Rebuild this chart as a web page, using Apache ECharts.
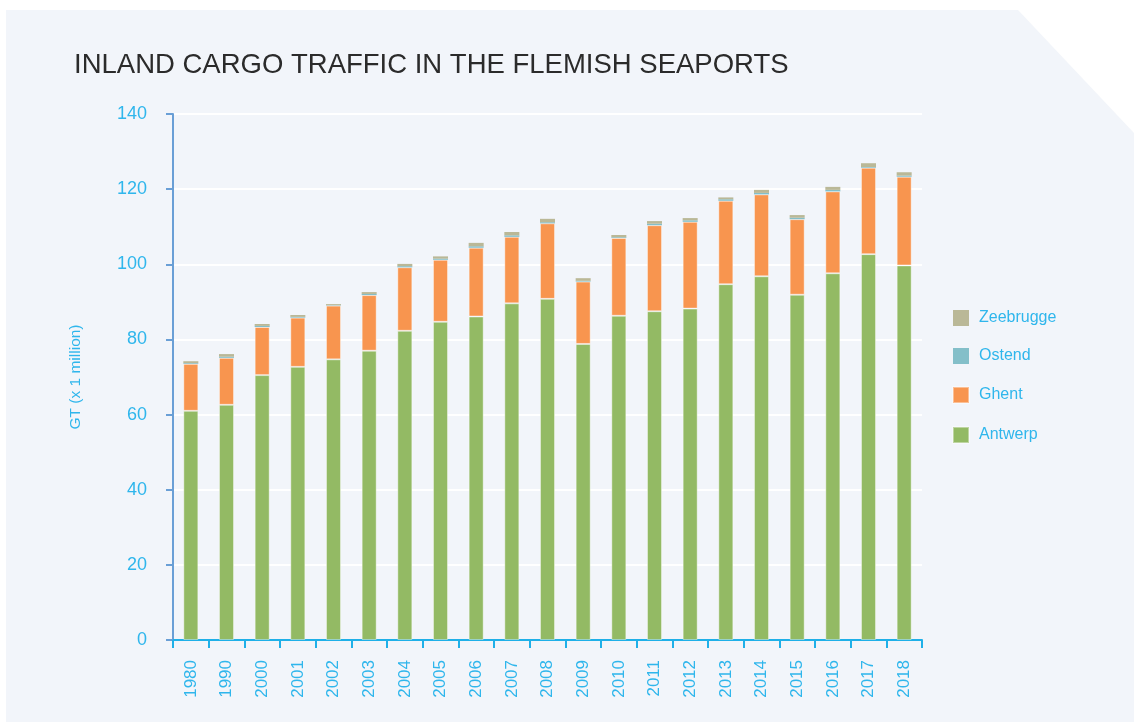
<!DOCTYPE html>
<html>
<head>
<meta charset="utf-8">
<script src="https://cdn.jsdelivr.net/npm/echarts@6/dist/echarts.min.js"></script>
<style>
  html, body { margin: 0; padding: 0; background: #fff; }
  #main { width: 1134px; height: 722px; }
</style>
</head>
<body>
<div id="main"></div>
<script>
var years = ['1980', '1990', '2000', '2001', '2002', '2003', '2004', '2005', '2006', '2007',
    '2008', '2009', '2010', '2011', '2012', '2013', '2014', '2015', '2016', '2017', '2018'];
var antwerp = [61.0, 62.6, 70.5, 72.7, 74.7, 77.0, 82.3, 84.7, 86.1, 89.6,
    90.8, 78.8, 86.3, 87.5, 88.2, 94.7, 96.8, 91.9, 97.6, 102.7, 99.7];
var ghent = [12.5, 12.5, 12.8, 13.1, 14.3, 14.8, 16.9, 16.5, 18.3, 17.7,
    20.1, 16.6, 20.7, 22.9, 23.1, 22.2, 21.8, 20.1, 21.8, 23.0, 23.6];
var ostend = [0.2, 0.3, 0.3, 0.2, 0.1, 0.3, 0.3, 0.3, 0.4, 0.4,
    0.3, 0.2, 0.2, 0.4, 0.4, 0.4, 0.4, 0.4, 0.4, 0.2, 0.3];
var zeebrugge = [0.5, 0.7, 0.5, 0.5, 0.3, 0.5, 0.6, 0.6, 0.9, 0.9,
    0.9, 0.7, 0.6, 0.7, 0.6, 0.5, 0.8, 0.7, 0.8, 1.0, 0.9];

var labelBlue = '#2fb6ec';
var font = '"Liberation Sans", Arial, sans-serif';

var chart = echarts.init(document.getElementById('main'));

function barSeries(name, data, color, border) {
    return {
        name: name,
        type: 'bar',
        stack: 'total',
        barWidth: 15,
        data: data,
        itemStyle: {
            color: color,
            borderColor: 'rgba(255,255,255,0.4)',
            borderWidth: border
        }
    };
}

var option = {
    backgroundColor: '#ffffff',
    animation: false,
    graphic: [{
        type: 'polygon',
        z: -10,
        shape: {
            points: [[6, 10], [1018, 10], [1134, 133], [1134, 722], [6, 722]]
        },
        style: { fill: '#f2f5fa' }
    }],
    title: {
        text: 'INLAND CARGO TRAFFIC IN THE FLEMISH SEAPORTS',
        left: 69,
        top: 46,
        textStyle: {
            color: '#2b2b2b',
            fontFamily: font,
            fontWeight: 'normal',
            fontSize: 27.5
        }
    },
    legend: {
        data: ['Zeebrugge', 'Ostend', 'Ghent', 'Antwerp'],
        orient: 'vertical',
        left: 947,
        top: 305,
        itemWidth: 16,
        itemHeight: 16,
        itemGap: 22,
        icon: 'rect',
        textStyle: {
            color: labelBlue,
            fontFamily: font,
            fontSize: 16,
            padding: [0, 0, 0, 5]
        }
    },
    grid: {
        left: 173,
        right: 212,
        top: 114,
        bottom: 82
    },
    xAxis: {
        type: 'category',
        data: years,
        axisLine: { lineStyle: { color: '#1fb0e8', width: 2 } },
        axisTick: { show: true, length: 8, lineStyle: { color: '#1fb0e8', width: 2 } },
        axisLabel: {
            rotate: 90,
            color: labelBlue,
            fontFamily: font,
            fontSize: 17,
            margin: 20
        }
    },
    yAxis: {
        type: 'value',
        min: 0,
        max: 140,
        interval: 20,
        name: 'GT (x 1 million)',
        nameLocation: 'middle',
        nameGap: 89,
        nameTextStyle: {
            color: labelBlue,
            fontFamily: font,
            fontSize: 15.5
        },
        axisLine: { show: true, lineStyle: { color: '#6a9fd6', width: 2 } },
        axisTick: { show: true, length: 7, lineStyle: { color: '#6a9fd6', width: 2 } },
        axisLabel: {
            color: labelBlue,
            fontFamily: font,
            fontSize: 18,
            margin: 26
        },
        splitLine: { lineStyle: { color: '#ffffff', width: 2 } }
    },
    series: [
        barSeries('Antwerp', antwerp, '#93ba64', 1),
        barSeries('Ghent', ghent, '#f8954f', 1),
        barSeries('Ostend', ostend, '#84bfc9', 0),
        barSeries('Zeebrugge', zeebrugge, '#bab897', 0)
    ]
};

chart.setOption(option);
</script>
</body>
</html>
